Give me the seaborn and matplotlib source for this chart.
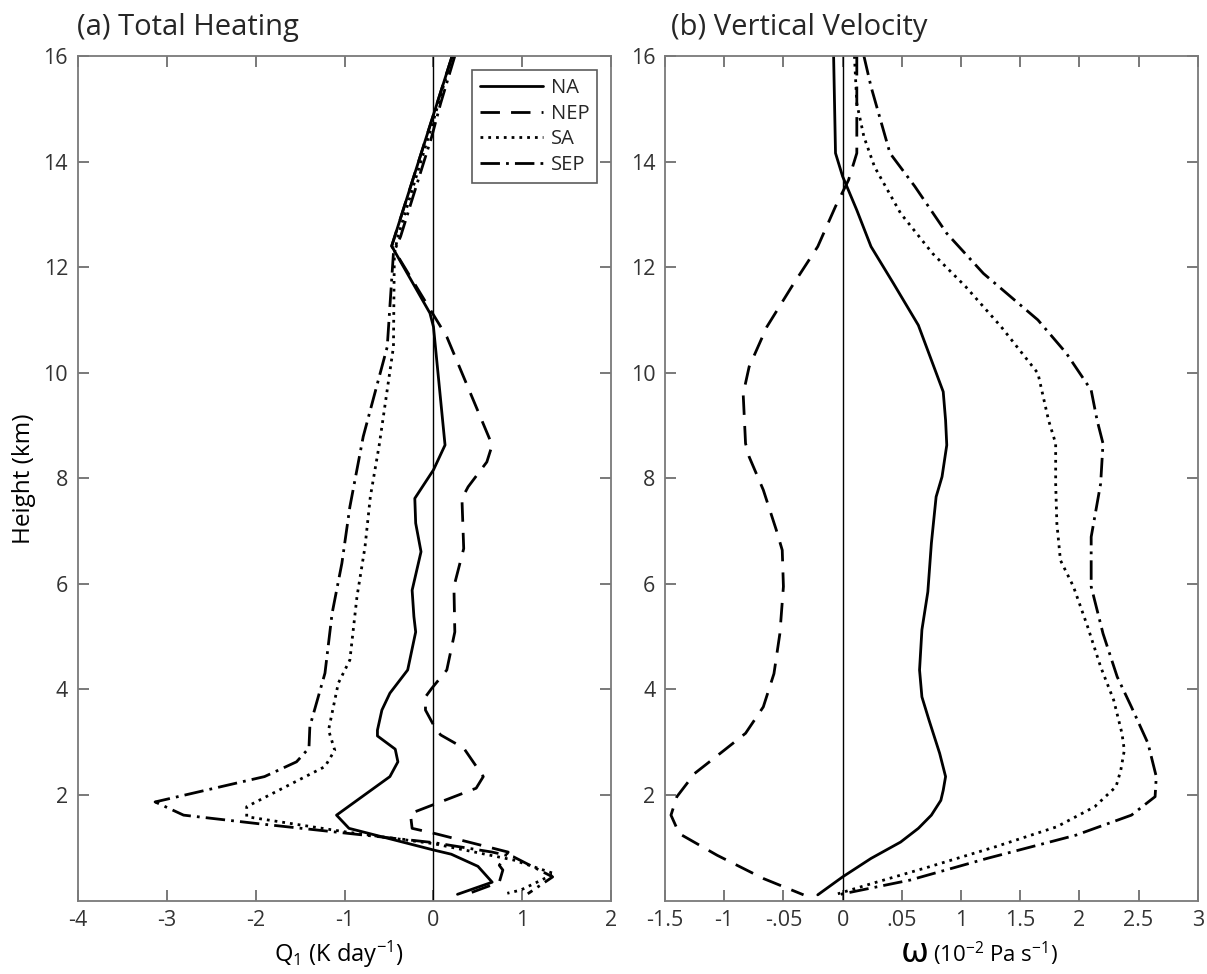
import matplotlib
matplotlib.use("Agg")
import matplotlib.pyplot as plt
import seaborn as sns
import numpy as np

# ---- (a) Total heating Q1 (K/day) profiles ----
na_q_h = [16.0, 12.4, 11.13, 10.87, 8.63, 8.16, 7.62, 7.15, 6.61, 5.88, 5.38, 5.09, 4.37,
          3.93, 3.61, 3.23, 3.12, 2.87, 2.63, 2.35, 1.62, 1.37, 0.96, 0.88, 0.65, 0.35, 0.12]
na_q = [0.21, -0.47, -0.04, 0.0, 0.13, 0.0, -0.21, -0.2, -0.14, -0.24, -0.22, -0.2, -0.29,
        -0.49, -0.58, -0.63, -0.63, -0.43, -0.40, -0.49, -1.09, -0.95, 0.0, 0.2, 0.5, 0.66, 0.27]

nep_q_h = [16.0, 12.4, 10.68, 8.63, 8.31, 7.84, 7.62, 6.67, 5.95, 5.09, 4.37, 4.02, 3.86,
           3.61, 3.33, 3.14, 2.89, 2.35, 2.13, 1.65, 1.37, 1.27, 0.92, 0.67, 0.58, 0.35, 0.10]
nep_q = [0.21, -0.47, 0.15, 0.66, 0.6, 0.39, 0.32, 0.34, 0.23, 0.24, 0.15, -0.02, -0.09,
         -0.09, 0.0, 0.08, 0.34, 0.56, 0.48, -0.26, -0.24, 0.02, 0.84, 0.74, 0.78, 0.74, 0.34]

sa_q_h = [16.0, 14.78, 12.58, 12.26, 10.49, 8.63, 7.65, 6.7, 5.76, 4.56, 4.12, 3.23, 2.85,
          2.54, 1.78, 1.59, 1.3, 1.08, 0.77, 0.51, 0.2, 0.14]
sa_q = [0.21, 0.0, -0.40, -0.44, -0.45, -0.61, -0.71, -0.77, -0.86, -0.94, -1.07, -1.18, -1.11,
        -1.22, -2.10, -2.10, -0.98, 0.0, 0.9, 1.36, 0.98, 0.83]

sep_q_h = [16.0, 15.1, 14.47, 12.58, 12.27, 10.49, 8.79, 7.46, 6.39, 5.44, 4.31, 3.3, 2.89,
           2.63, 2.35, 1.87, 1.62, 1.46, 1.1, 0.92, 0.83, 0.45, 0.13]
sep_q = [0.24, 0.08, -0.02, -0.37, -0.45, -0.52, -0.79, -0.94, -1.03, -1.14, -1.22, -1.39, -1.40,
         -1.54, -1.90, -3.13, -2.81, -1.98, 0.0, 0.66, 0.9, 1.34, 1.06]

# ---- (b) Vertical velocity omega (1e-2 Pa/s) profiles ----
na_w_h = [16, 14.16, 13.72, 13.08, 12.39, 11.69, 10.9, 9.64, 9.1, 8.63, 8.03, 7.65, 6.77, 5.85,
          5.13, 4.37, 3.86, 3.42, 2.79, 2.35, 2.09, 1.9, 1.62, 1.37, 1.11, 0.8, 0.45, 0.11]
na_w = [-0.076, -0.06, 0.0, 0.12, 0.24, 0.43, 0.64, 0.85, 0.87, 0.88, 0.84, 0.79, 0.75, 0.72,
        0.67, 0.65, 0.67, 0.73, 0.82, 0.87, 0.85, 0.83, 0.75, 0.64, 0.49, 0.24, 0.0, -0.21]

nep_w_h = [16, 14.16, 13.65, 13.15, 12.39, 11.63, 10.87, 10.11, 9.6, 8.66, 8.41, 7.78, 7.02, 6.64,
           5.95, 5.06, 4.3, 3.67, 3.17, 2.85, 2.41, 1.97, 1.62, 1.27, 0.86, 0.42, 0.11]
nep_w = [0.12, 0.12, 0.05, -0.06, -0.21, -0.43, -0.64, -0.79, -0.84, -0.82, -0.79, -0.67, -0.56,
         -0.51, -0.5, -0.53, -0.58, -0.67, -0.82, -1.0, -1.25, -1.4, -1.45, -1.38, -1.06, -0.67, -0.33]

sa_w_h = [16, 15.1, 14.47, 13.9, 13.02, 12.26, 11.63, 10.87, 9.99, 9.1, 8.66, 7.9, 7.15, 6.45,
          5.95, 5.19, 4.43, 3.8, 3.17, 2.85, 2.47, 2.16, 1.78, 1.4, 1.02, 0.64, 0.32, 0.13]
sa_w = [0.1, 0.12, 0.18, 0.27, 0.49, 0.76, 1.04, 1.34, 1.65, 1.74, 1.8, 1.8, 1.81, 1.84,
        1.95, 2.07, 2.18, 2.29, 2.36, 2.38, 2.35, 2.31, 2.13, 1.81, 1.29, 0.73, 0.24, -0.04]

sep_w_h = [16, 15.42, 14.16, 13.53, 12.64, 11.88, 11.0, 10.37, 9.67, 9.1, 8.66, 7.9, 6.89,
           5.95, 5.06, 4.24, 3.67, 2.98, 2.35, 1.97, 1.62, 1.24, 0.8, 0.39, 0.11]
sep_w = [0.18, 0.24, 0.4, 0.61, 0.88, 1.19, 1.65, 1.89, 2.1, 2.15, 2.2, 2.18, 2.1,
         2.1, 2.2, 2.32, 2.44, 2.58, 2.65, 2.64, 2.44, 1.97, 1.22, 0.57, -0.04]

regions = ["NA", "NEP", "SA", "SEP"]
height_ticks = [2, 4, 6, 8, 10, 12, 14, 16]
q_ticks = [-4, -3, -2, -1, 0, 1, 2]
w_ticks = [-1.5, -1, -0.5, 0, 0.5, 1, 1.5, 2, 2.5, 3]
w_tick_labels = ["-1.5", "-1", "-.05", "0", ".05", "1", "1.5", "2", "2.5", "3"]

sns.set_theme(style="ticks")
plt.rcParams["font.family"] = ["Open Sans", "DejaVu Sans"]
plt.rcParams["mathtext.fontset"] = "custom"
plt.rcParams["mathtext.rm"] = "Open Sans"
plt.rcParams["mathtext.it"] = "Open Sans:italic"

line_styles = {
    "NA": "-",
    "NEP": (0, (7, 4)),
    "SA": (0, (1, 1.8)),
    "SEP": (0, (7, 2.2, 1, 2.2)),
}

W, H = 1207, 974
fig = plt.figure(figsize=(W / 100, H / 100), dpi=100)
ax1 = fig.add_axes([0.0644, 0.0753, 0.4421, 0.8672])
ax2 = fig.add_axes([0.5510, 0.0753, 0.4413, 0.8672])

spine_gray = "#7a7a7a"
tick_gray = "#333333"


def style_axes(ax):
    for sp in ax.spines.values():
        sp.set_color(spine_gray)
        sp.set_linewidth(1.3)
        sp.set_visible(True)
    ax.tick_params(direction="in", length=8, width=1.1, color="#555555",
                   top=True, right=True, labelsize=15.5, labelcolor=tick_gray, pad=7)
    ax.set_ylim(0, 16)
    ax.set_yticks(height_ticks)


series_q = [(na_q, na_q_h), (nep_q, nep_q_h), (sa_q, sa_q_h), (sep_q, sep_q_h)]
series_w = [(na_w, na_w_h), (nep_w, nep_w_h), (sa_w, sa_w_h), (sep_w, sep_w_h)]

ax1.axvline(0, color="black", lw=1.0, zorder=1)
for name, (xv, yv) in zip(regions, series_q):
    sns.lineplot(x=xv, y=yv, ax=ax1, sort=False, estimator=None, color="black",
                 lw=2.0, linestyle=line_styles[name], label=name)

ax2.axvline(0, color="black", lw=1.0, zorder=1)
for name, (xv, yv) in zip(regions, series_w):
    sns.lineplot(x=xv, y=yv, ax=ax2, sort=False, estimator=None, color="black",
                 lw=2.0, linestyle=line_styles[name], legend=False)

style_axes(ax1)
style_axes(ax2)

ax1.set_xlim(-4, 2)
ax1.set_xticks(q_ticks)
ax1.set_xticklabels([str(t) for t in q_ticks])
ax2.set_xlim(-1.5, 3)
ax2.set_xticks(w_ticks)
ax2.set_xticklabels(w_tick_labels)

ax1.set_ylabel("Height (km)", fontsize=17.5, color="black", labelpad=5)
ax2.set_ylabel("")
ax1.set_xlabel("")
ax2.set_xlabel("")

# x-axis titles
fig.text(339 / W, 1 - 954 / H, r"Q$_1$ (K day$^{-1}$)", fontsize=17,
         ha="center", va="center", color="black")
fig.text(929 / W, 1 - 953 / H, "\u03c9", fontsize=24, ha="right", va="center",
         color="black", family="DejaVu Sans")
fig.text(933 / W, 1 - 954 / H, r"(10$^{-2}$ Pa s$^{-1}$)", fontsize=16,
         ha="left", va="center", color="black")

leg = ax1.legend(loc="upper right", fontsize=14.5, frameon=True, fancybox=False,
                 edgecolor="#333333", handlelength=3.1, borderaxespad=0.7,
                 labelspacing=0.28, handletextpad=0.4, borderpad=0.4)
leg.get_frame().set_linewidth(1.2)

fig.text(77 / W, 1 - 35 / H, "(a) Total Heating", fontsize=21, ha="left", va="baseline")
fig.text(671 / W, 1 - 35 / H, "(b) Vertical Velocity", fontsize=21, ha="left", va="baseline")

fig.savefig("out.png", dpi=100)
